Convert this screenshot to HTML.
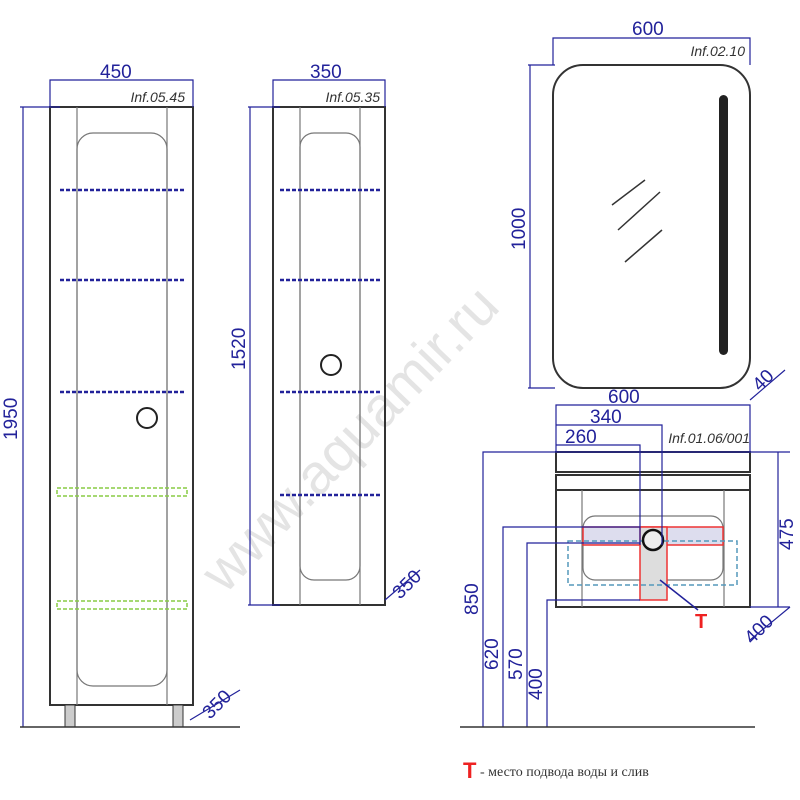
<!DOCTYPE html>
<html><head><style>body{margin:0;background:#fff}svg{display:block}</style></head><body>
<svg width="800" height="800" viewBox="0 0 800 800" xmlns="http://www.w3.org/2000/svg" font-family="Liberation Sans, sans-serif">
<text transform="translate(225,595) rotate(-46)" fill="#e4e4e4" font-size="56">www.aquamir.ru</text>
<g fill="none" stroke="#333" stroke-width="2">
<rect x="50" y="107" width="143" height="598"/>
<rect x="65" y="705" width="10" height="22" stroke-width="1" fill="#ccc"/>
<rect x="173" y="705" width="10" height="22" stroke-width="1" fill="#ccc"/>
<rect x="273" y="107" width="112" height="498"/>
<rect x="553" y="65" width="197" height="323" rx="30"/>
<rect x="556" y="452" width="194" height="20"/>
<rect x="556" y="475" width="194" height="15"/>
<rect x="556" y="490" width="194" height="117"/>
</g>
<g fill="none" stroke="#777" stroke-width="1.2">
<line x1="77" y1="107" x2="77" y2="705"/><line x1="167" y1="107" x2="167" y2="705"/>
<rect x="77" y="133" width="90" height="553" rx="16"/>
<line x1="300" y1="107" x2="300" y2="605"/><line x1="360" y1="107" x2="360" y2="605"/>
<rect x="300" y="133" width="60" height="447" rx="14"/>
<line x1="582" y1="490" x2="582" y2="607"/><line x1="724" y1="490" x2="724" y2="607"/>
<rect x="583" y="516" width="140" height="64" rx="12"/>
</g>
<g stroke="#22229a" stroke-width="2.5" stroke-dasharray="4 2">
<line x1="60" y1="190" x2="185" y2="190"/><line x1="60" y1="280" x2="185" y2="280"/><line x1="60" y1="392" x2="185" y2="392"/>
<line x1="280" y1="190" x2="380" y2="190"/><line x1="280" y1="280" x2="380" y2="280"/><line x1="280" y1="392" x2="380" y2="392"/><line x1="280" y1="495" x2="380" y2="495"/>
</g>
<g fill="none" stroke="#8c4" stroke-width="1.5" stroke-dasharray="4 2">
<rect x="57" y="488" width="130" height="8"/><rect x="57" y="601" width="130" height="8"/>
</g>
<g fill="#fff" stroke="#222" stroke-width="2">
<circle cx="147" cy="418" r="10"/><circle cx="331" cy="365" r="10"/>
</g>
<rect x="719" y="95" width="9" height="260" rx="4.5" fill="#222"/>
<g stroke="#333" stroke-width="1.5"><line x1="612" y1="205" x2="645" y2="180"/><line x1="618" y1="230" x2="660" y2="192"/><line x1="625" y1="262" x2="662" y2="230"/></g>
<rect x="583" y="527" width="140" height="18" fill="#dde" stroke="#e33" stroke-width="1.5"/>
<rect x="640" y="527" width="27" height="73" fill="#ddd" stroke="#e33" stroke-width="1.5"/>
<rect x="568" y="541" width="169" height="44" fill="none" stroke="#59b" stroke-width="1.5" stroke-dasharray="5 3"/>
<circle cx="653" cy="540" r="10" fill="#eee" stroke="#111" stroke-width="2.5"/>
<line x1="660" y1="580" x2="698" y2="610" stroke="#22229a" stroke-width="1.5"/>
<g fill="none" stroke="#22229a" stroke-width="1.2">
<polyline points="50,107 50,80 193,80 193,107"/>
<polyline points="273,107 273,80 385,80 385,107"/>
<polyline points="20,107 60,107"/><line x1="23" y1="107" x2="23" y2="727"/>
<line x1="248" y1="107" x2="280" y2="107"/><line x1="250" y1="107" x2="250" y2="605"/><line x1="248" y1="605" x2="280" y2="605"/>
<line x1="190" y1="720" x2="240" y2="690"/><line x1="385" y1="600" x2="420" y2="570"/>
<polyline points="553,65 553,38 750,38 750,65"/>
<line x1="528" y1="65" x2="555" y2="65"/><line x1="530" y1="65" x2="530" y2="388"/><line x1="528" y1="388" x2="555" y2="388"/>
<line x1="750" y1="400" x2="785" y2="370"/>
<polyline points="556,452 556,405 750,405 750,452"/>
<polyline points="556,425 662,425 662,545"/>
<polyline points="556,445 640,445 640,545"/>
<polyline points="483,727 483,452 790,452"/><line x1="750" y1="607" x2="790" y2="607"/><line x1="778" y1="452" x2="778" y2="607"/>
<polyline points="503,727 503,527 640,527"/>
<polyline points="527,727 527,543 640,543"/>
<polyline points="547,727 547,600 640,600"/>
<line x1="750" y1="640" x2="790" y2="607"/>
</g>
<line x1="20" y1="727" x2="240" y2="727" stroke="#333" stroke-width="1.5"/>
<line x1="460" y1="727" x2="755" y2="727" stroke="#333" stroke-width="1.5"/>
<g fill="#22229a" font-size="19">
<text x="100" y="78">450</text><text x="310" y="78">350</text><text x="632" y="35">600</text><text x="608" y="403">600</text>
<text x="590" y="423">340</text><text x="565" y="443">260</text>
<text transform="translate(17,440) rotate(-90)">1950</text>
<text transform="translate(245,370) rotate(-90)">1520</text>
<text transform="translate(525,250) rotate(-90)">1000</text>
<text transform="translate(793,550) rotate(-90)">475</text>
<text transform="translate(478,615) rotate(-90)">850</text>
<text transform="translate(498,670) rotate(-90)">620</text>
<text transform="translate(522,680) rotate(-90)">570</text>
<text transform="translate(542,700) rotate(-90)">400</text>
<text transform="translate(210,720) rotate(-45)">350</text>
<text transform="translate(400,600) rotate(-45)">350</text>
<text transform="translate(760,392) rotate(-45)">40</text>
<text transform="translate(752,645) rotate(-45)">400</text>
</g>
<g fill="#333" font-size="14" font-style="italic">
<text x="185" y="102" text-anchor="end">Inf.05.45</text>
<text x="380" y="102" text-anchor="end">Inf.05.35</text>
<text x="745" y="56" text-anchor="end">Inf.02.10</text>
<text x="750" y="443" text-anchor="end">Inf.01.06/001</text>
</g>
<text x="695" y="628" fill="#e22" font-size="20" font-weight="bold">T</text>
<text x="463" y="778" fill="#e22" font-size="22" font-weight="bold">T</text>
<text x="480" y="776" fill="#333" font-size="14" font-family="Liberation Serif, serif">- место подвода воды и слив</text>
</svg>
</body></html>
